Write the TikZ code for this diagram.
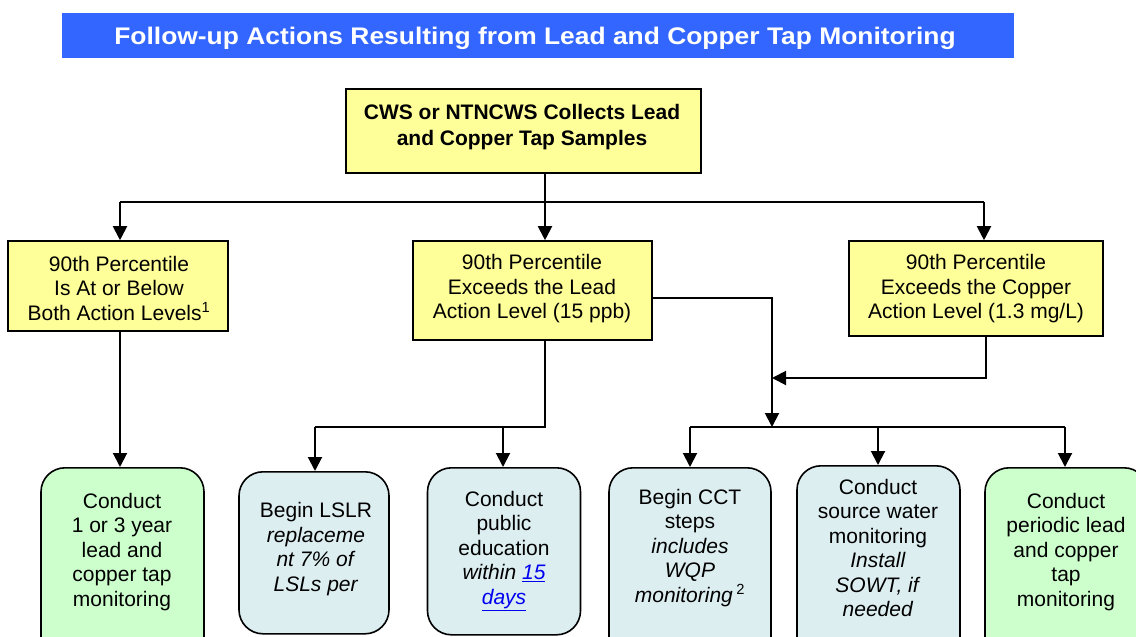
\documentclass[tikz,border=0pt]{standalone}
\usepackage{fontspec}
\setmainfont{Liberation Sans}
\usetikzlibrary{arrows.meta}
\definecolor{titleblue}{HTML}{3366FF}
\definecolor{ybox}{HTML}{FFFF99}
\definecolor{gbox}{HTML}{CCFFCC}
\definecolor{lbbox}{HTML}{DDEEF1}
\definecolor{linkblue}{HTML}{0000EE}
\begin{document}
\begin{tikzpicture}[x=1pt,y=-1pt,
  txt/.style={font=\fontsize{21}{24.5}\selectfont, align=center, inner sep=0pt},
  ybx/.style={draw=black, line width=1.6pt, fill=ybox, inner sep=0pt},
  rbx/.style={draw=black, line width=1.6pt, rounded corners=24pt, inner sep=0pt},
  conn/.style={line width=2pt},
  arr/.style={conn, -{Triangle[length=14pt,width=14pt]}}]
\useasboundingbox (0,0) rectangle (1136,637);
\clip (0,0) rectangle (1136,637);
\fill[white] (0,0) rectangle (1136,637);
% title
\node[fill=titleblue, minimum width=952pt, minimum height=45pt, inner sep=0pt] (title) at (538,35.5) {};
\node[text=white, font=\fontsize{24}{26}\selectfont\bfseries, inner sep=0pt] (titletext) at (535,38.5) {\scalebox{1.1}[1]{Follow-up Actions Resulting from Lead and Copper Tap Monitoring}};
% top box
\node[ybx, minimum width=355pt, minimum height=84pt] (T) at (523.5,131) {};
\node[txt, font=\fontsize{21}{26}\selectfont\bfseries] (Tt) at (522,127) {CWS or NTNCWS Collects Lead\\and Copper Tap Samples};
% level boxes
\node[ybx, minimum width=220pt, minimum height=90pt] (L) at (118,286) {};
\node[txt] (Lt) at (119,288) {90th Percentile\\Is At or Below\\Both Action Levels\textsuperscript{1}};
\node[ybx, minimum width=239pt, minimum height=99pt] (M) at (532.5,290.5) {};
\node[txt] (Mt) at (532,289) {90th Percentile\\Exceeds the Lead\\Action Level (15 ppb)};
\node[ybx, minimum width=254pt, minimum height=95pt] (R) at (976,288.5) {};
\node[txt] (Rt) at (976,289) {90th Percentile\\Exceeds the Copper\\Action Level (1.3 mg/L)};
% bottom boxes
\node[rbx, fill=gbox, minimum width=163pt, minimum height=200pt, anchor=north] (b1) at (122.5,467) {};
\node[rbx, fill=lbbox, minimum width=150pt, minimum height=162pt, anchor=north] (b2) at (314,471) {};
\node[rbx, fill=lbbox, minimum width=153pt, minimum height=167pt, anchor=north] (b3) at (504,467) {};
\node[rbx, fill=lbbox, minimum width=162pt, minimum height=200pt, anchor=north] (b4) at (690,467) {};
\node[rbx, fill=lbbox, minimum width=163pt, minimum height=200pt, anchor=north] (b5) at (878.5,465) {};
\node[rbx, fill=gbox, minimum width=163pt, minimum height=200pt, anchor=north] (b6) at (1066.5,467) {};
\node[txt] (b1t) at (122,552) {Conduct\\1 or 3 year\\lead and\\copper tap\\monitoring};
\node[txt] (b2t) at (316,549) {Begin LSLR\\\textit{replaceme}\\\textit{nt 7\% of}\\\textit{LSLs per}};
\node[txt] (b3t) at (504,551) {Conduct\\public\\education\\\textit{within \textcolor{linkblue}{\underline{15}}}\\\textit{\textcolor{linkblue}{\underline{days}}}};
\node[txt] (b4t) at (690,548) {Begin CCT\\steps\\\textit{includes}\\\textit{WQP}\\\textit{monitoring}\,\textsuperscript{2}};
\node[txt] (b5t) at (878,548) {Conduct\\source water\\monitoring\\\textit{Install}\\\textit{SOWT, if}\\\textit{needed}};
\node[txt] (b6t) at (1066,552) {Conduct\\periodic lead\\and copper\\tap\\monitoring};
% connector points
\coordinate (j0) at (545,202);
\coordinate (jl) at (120,202);
\coordinate (jr) at (984,202);
\coordinate (m1) at (772,298);
\coordinate (hub) at (772,427);
\coordinate (rc) at (985.5,378);
\coordinate (lh) at (545,427);
\coordinate (lhl) at (315,427);
\coordinate (lhm) at (503,427);
\coordinate (rhl) at (690,427);
\coordinate (rhm) at (878,427);
\coordinate (rhr) at (1065,427);
% connectors
\draw[conn] (T.south -| j0) -- (j0);
\draw[conn] (jl) -- (jr);
\draw[arr] (jl) -- (jl |- L.north);
\draw[arr] (j0) -- (j0 |- M.north);
\draw[arr] (jr) -- (jr |- R.north);
\draw[arr] (L.south -| jl) -- (jl |- b1.north);
\draw[arr] (M.east |- m1) -- (m1) -- (hub);
\draw[arr] (R.south -| rc) -- (rc) -- (m1 |- rc);
\draw[conn] (M.south -| lh) -- (lh) -- (lhl);
\draw[arr] (lhl) -- (lhl |- b2.north);
\draw[arr] (lhm) -- (lhm |- b3.north);
\draw[conn] (rhl) -- (rhr);
\draw[arr] (rhl) -- (rhl |- b4.north);
\draw[arr] (rhm) -- (rhm |- b5.north);
\draw[arr] (rhr) -- (rhr |- b6.north);
\end{tikzpicture}
\end{document}
